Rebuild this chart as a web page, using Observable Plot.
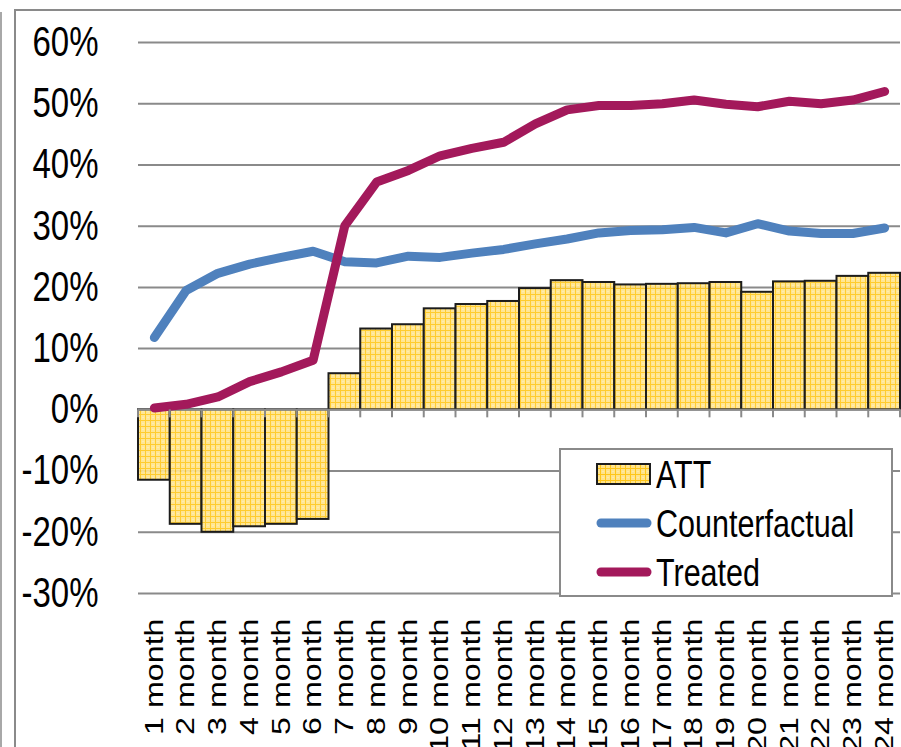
<!DOCTYPE html>
<html><head><meta charset="utf-8">
<script src="https://cdn.jsdelivr.net/npm/d3@7"></script>
<script src="https://cdn.jsdelivr.net/npm/@observablehq/plot@0.6"></script>
<style>
html,body{margin:0;padding:0;background:#fff;overflow:hidden}
#chart{position:relative;width:901px;height:747px}
#chart svg{display:block}
</style></head><body><div id="chart"></div>
<script>
const months = ["1 month","2 month","3 month","4 month","5 month","6 month","7 month","8 month","9 month","10 month","11 month","12 month","13 month","14 month","15 month","16 month","17 month","18 month","19 month","20 month","21 month","22 month","23 month","24 month"];
const att = [-11.5,-18.7,-20.0,-19.1,-18.7,-17.9,5.9,13.2,13.9,16.5,17.2,17.7,19.8,21.1,20.8,20.4,20.5,20.6,20.8,19.2,20.9,21.0,21.8,22.3];
const counterfactual = [11.8,19.5,22.3,23.8,24.9,25.9,24.2,24.0,25.1,24.9,25.6,26.2,27.1,27.9,28.9,29.3,29.4,29.8,28.9,30.4,29.2,28.8,28.8,29.7];
const treated = [0.3,0.9,2.1,4.6,6.2,8.1,30.1,37.2,39.1,41.5,42.7,43.7,46.7,49.0,49.7,49.7,50.0,50.6,49.9,49.5,50.4,50.0,50.6,52.0];
const yTicks = [-30,-20,-10,0,10,20,30,40,50,60];
const seriesNames = ["ATT","Counterfactual","Treated"];
const seriesColors = ["url(#att-pattern)","#4F81BD","#A3195B"];

const FONT = "'Liberation Sans', Arial, sans-serif";
const rows = months.map((m, i) => ({month: m, att: att[i], cf: counterfactual[i], tr: treated[i]}));

const plot = Plot.plot({
  width: 901, height: 747,
  marginLeft: 138, marginRight: 1, marginTop: 42, marginBottom: 154,
  style: {fontFamily: FONT, background: "transparent", color: "#000", overflow: "visible"},
  x: {type: "band", domain: months, padding: 0, round: false, label: null},
  y: {domain: [-30, 60], label: null},
  marks: [
    Plot.gridY(yTicks.filter(v => v !== 0), {stroke: "#8a8a8a", strokeOpacity: 1, strokeWidth: 2}),
    Plot.barY(rows, {x: "month", y: "att", fill: seriesColors[0], fillOpacity: 0.9, stroke: "#1c1c1c", strokeWidth: 2, inset: 0}),
    Plot.ruleY([0], {stroke: "#8a8a8a", strokeWidth: 2}),
    Plot.lineY(rows, {x: "month", y: "cf", stroke: seriesColors[1], strokeWidth: 9, strokeLinecap: "round", strokeLinejoin: "round"}),
    Plot.lineY(rows, {x: "month", y: "tr", stroke: seriesColors[2], strokeWidth: 9, strokeLinecap: "round", strokeLinejoin: "round"}),
    Plot.axisY(yTicks, {tickSize: 0, tickPadding: 40, fontSize: 33, fontFamily: FONT, tickFormat: d => `${d}%`, label: null}),
    Plot.axisX({anchor: "bottom", tickSize: 0, tickPadding: 25, tickRotate: -90, fontSize: 26, fontFamily: FONT, label: null})
  ]
});

document.getElementById("chart").appendChild(plot);
const svg = d3.select(plot);

// bar pattern
const defs = svg.insert("defs", ":first-child");
const pat = defs.append("pattern").attr("id", "att-pattern").attr("patternUnits", "userSpaceOnUse").attr("width", 5).attr("height", 6);
pat.append("rect").attr("width", 5).attr("height", 6).attr("fill", "#FFE38A");
pat.append("path").attr("d", "M0 0.5H5M0.5 0V6").attr("stroke", "#FFC619").attr("stroke-width", 1);
pat.append("rect").attr("x", 2.5).attr("y", 3).attr("width", 1).attr("height", 1).attr("fill", "#FFF2C0");

// stretch text like the reference
function stretch(sel, sx, sy) {
  sel.each(function () {
    const t = d3.select(this);
    let tr = t.attr("transform") || "";
    if (!/translate/.test(tr)) {
      const x = parseFloat(t.attr("x")) || 0;
      const yAttr = t.attr("y");
      const y = yAttr && !/em/.test(yAttr) ? parseFloat(yAttr) : 0;
      t.attr("x", null);
      if (yAttr && !/em/.test(yAttr)) t.attr("y", null);
      tr = `translate(${x},${y}) ` + tr;
    }
    t.attr("transform", `${tr} scale(${sx},${sy})`);
  });
}
stretch(svg.selectAll('g[aria-label="y-axis tick label"] text'), 1, 1.27);
stretch(svg.selectAll('g[aria-label="x-axis tick label"] text'), 1.24, 1);

// ticks on the zero axis at category boundaries
const xs = plot.scale("x"), ys = plot.scale("y");
const y0 = ys.apply(0);
const edges = months.map(m => xs.apply(m)).concat([xs.apply(months[months.length - 1]) + xs.bandwidth]);
const tg = svg.append("g").attr("stroke", "#8a8a8a").attr("stroke-width", 2);
edges.forEach(x => tg.append("line").attr("x1", x).attr("x2", x).attr("y1", y0).attr("y2", y0 + 8));

// chart frame
const fg = svg.append("g").attr("stroke", "#8a8a8a").attr("stroke-width", 2).attr("fill", "none");
fg.append("path").attr("d", "M15,747V10H901");
fg.append("path").attr("d", "M1,12V747").attr("stroke", "#a8a8a8");

// legend
const lg = svg.append("g").attr("font-family", FONT).attr("text-anchor", "start");
lg.append("rect").attr("x", 560).attr("y", 449).attr("width", 332).attr("height", 147)
  .attr("fill", "#fff").attr("stroke", "#8a8a8a").attr("stroke-width", 2);
const rowY = [474, 523, 572];
seriesNames.forEach((name, i) => {
  if (i === 0) {
    lg.append("rect").attr("x", 597).attr("y", rowY[i] - 10).attr("width", 53).attr("height", 20)
      .attr("fill", seriesColors[0]).attr("stroke", "#1c1c1c").attr("stroke-width", 2);
  } else {
    lg.append("line").attr("x1", 601).attr("x2", 647).attr("y1", rowY[i]).attr("y2", rowY[i])
      .attr("stroke", seriesColors[i]).attr("stroke-width", 9).attr("stroke-linecap", "round");
  }
  lg.append("text").attr("transform", `translate(656,${rowY[i]}) scale(1,1.27)`)
    .attr("text-anchor", "start").attr("dy", "0.35em").attr("font-size", 30.5).attr("fill", "#000").text(name);
});
</script>
</body></html>
